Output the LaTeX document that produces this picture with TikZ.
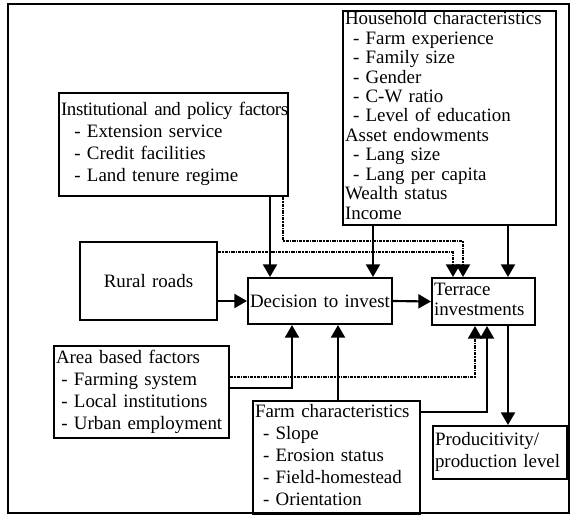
\documentclass[tikz,border=0pt]{standalone}
\usepackage{fontspec}
\setmainfont[WordSpace=0.7]{Liberation Serif}
\usepackage{tikz}
\usetikzlibrary{arrows.meta,positioning}

\tikzset{
  box/.style={draw, line width=1.5pt, anchor=north west, align=left, inner xsep=1.5pt, inner ysep=0pt,
    font=\fontsize{14.2}{16.5}\selectfont},
  arr/.style={->, line width=1.6pt, >={Triangle[length=9.5pt,width=10.5pt]}},
  dots/.style={arr, dash pattern=on 2.4pt off 0.8pt on 1pt off 0.8pt}
}
\newcommand{\ind}[1]{\hspace{#1pt}}
\newcommand{\rows}[1]{\begin{tabular}{@{}l@{}}#1\end{tabular}}

\begin{document}
\begin{tikzpicture}[x=0.75pt, y=-0.75pt]
\useasboundingbox (0,0) rectangle (574,518);
\draw[line width=1.5pt] (8,4) rectangle (569,513);

\node[box, text width=156.75pt, minimum height=160.5pt, font=\fontsize{14.2}{14.6}\selectfont] (hh) at (342,10)
  {\rows{Household characteristics\\ \ind{6}- Farm experience\\ \ind{6}- Family size\\ \ind{6}- Gender\\ \ind{6}- C-W ratio\\ \ind{6}- Level of education\\
   Asset endowments\\ \ind{6}- Lang size\\ \ind{6}- Lang per capita\\ Wealth status\\ Income}};
\node[box, text width=168.75pt, minimum height=77.25pt] (inst) at (58,92)
  {\rows{{\addfontfeatures{LetterSpace=-2}Institutional and policy factors}\\ \ind{10}- Extension service\\ \ind{10}- Credit facilities\\ \ind{10}- Land tenure regime}};
\node[box, text width=99.75pt, minimum height=58.5pt, align=center] (rural) at (79,241) {Rural roads};
\node[box, text width=105pt, minimum height=34.5pt, align=center] (dec) at (247,277) {\mbox{Decision to invest}};
\node[box, text width=74.25pt, minimum height=35.25pt, font=\fontsize{14.2}{15.5}\selectfont] (ter) at (431,277) {\rows{Terrace\\ investments}};
%============
\node[box, text width=128.25pt, minimum height=69pt] (area) at (53,345)
  {\rows{Area based factors\\ \ind{4}- Farming system\\ \ind{4}- Local institutions\\ \ind{4}- Urban employment}};
\node[box, text width=122.25pt, minimum height=84.75pt] (farm) at (252,400)
  {\rows{Farm characteristics\\ \ind{6}- Slope\\ \ind{6}- Erosion status\\ \ind{6}- Field-homestead\\ \ind{6}- Orientation}};
\node[box, text width=97.5pt, minimum height=39.75pt] (prod) at (432,425) {\rows{Producitivity/\\ production level}};
%==========

\coordinate (k1) at (283,241);
\coordinate (k2) at (463,241);
\coordinate (k3) at (453,252);
\coordinate (k4) at (270,0);
\coordinate (k5) at (373,0);
\coordinate (k6) at (508,0);
\coordinate (k7) at (292,388);
\coordinate (k8) at (475,377);
\coordinate (k9) at (338,0);
\coordinate (k10) at (487,412);

\draw[arr] (inst.south -| k4) -- (dec.north -| k4);
\draw[arr] (hh.south -| k5) -- (dec.north -| k5);
\draw[arr] (hh.south -| k6) -- (ter.north -| k6);
\draw[arr] (rural.east |- dec.west) -- (dec.west);
\draw[arr] (dec.east) -- (ter.west);
\draw[arr] (ter.south -| k6) -- (prod.north -| k6);
\draw[arr] (area.east |- k7) -- (k7) -- (dec.south -| k7);
\draw[arr] (farm.north -| k9) -- (dec.south -| k9);
\draw[arr] (farm.east |- k10) -- (k10) -- (ter.south -| k10);

\draw[dots] (inst.south -| k1) -- (k1) -- (k2) -- (ter.north -| k2);
\draw[dots] (rural.east |- k3) -- (k3) -- (ter.north -| k3);
\draw[dots] (area.east |- k8) -- (k8) -- (ter.south -| k8);
\end{tikzpicture}
\end{document}
